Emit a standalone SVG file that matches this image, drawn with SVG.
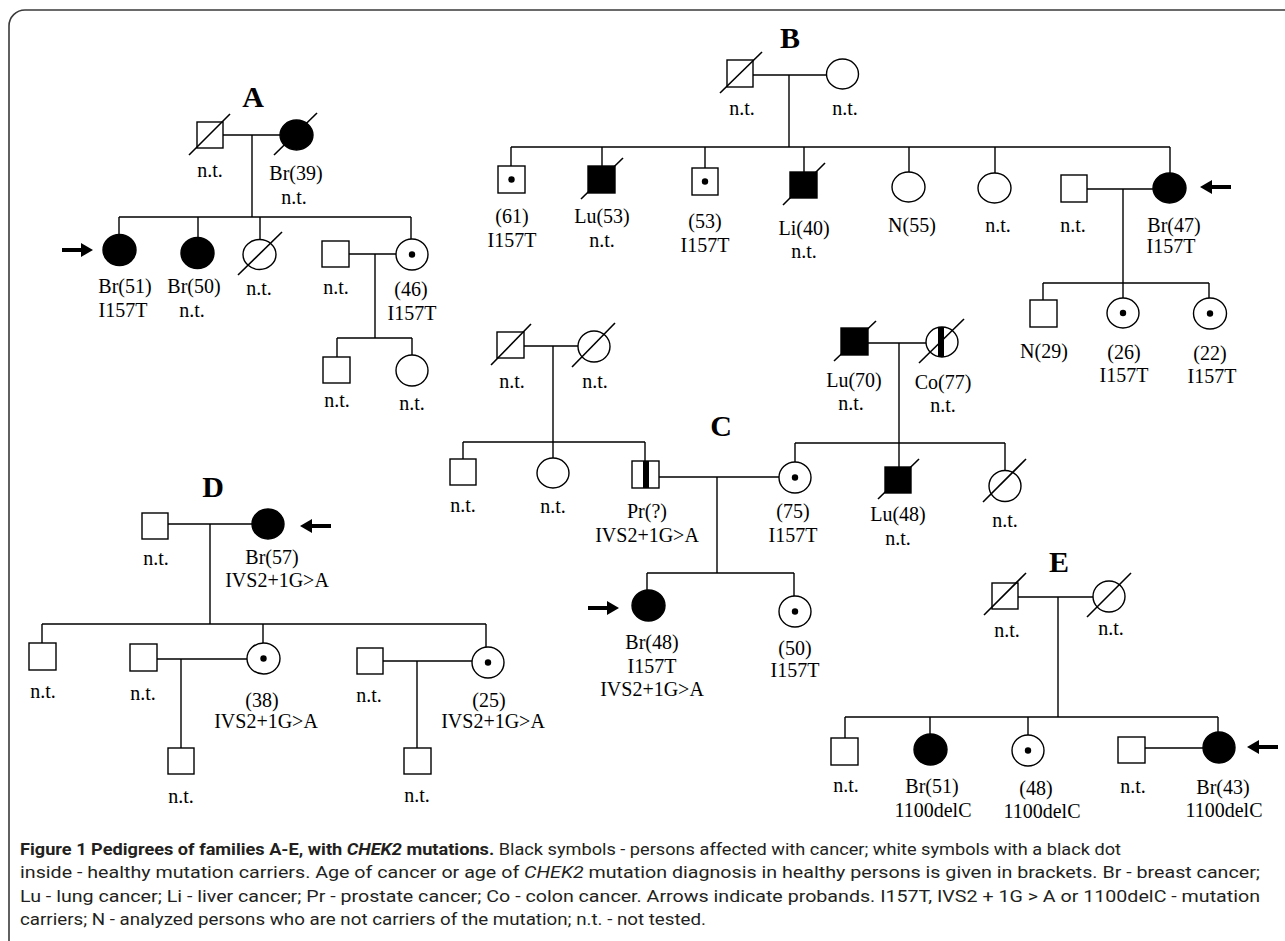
<svg xmlns="http://www.w3.org/2000/svg" xmlns:xlink="http://www.w3.org/1999/xlink" width="1285" height="941" viewBox="0 0 1285 941">
<style>
.ln{stroke:#000;stroke-width:1.4;fill:none}
.sym{fill:#fff;stroke:#000;stroke-width:1.4}
.aff{fill:#000;stroke:#000;stroke-width:1.4}
.sl{stroke:#000;stroke-width:1.6}
.bar{fill:#000}
.t{font-family:"Liberation Serif","Times New Roman",serif;font-size:20px;text-anchor:middle;fill:#000}
.lab{font-family:"Liberation Serif","Times New Roman",serif;font-size:30px;font-weight:bold;text-anchor:middle;fill:#000}
.cap{font-family:Roboto,"Open Sans",sans-serif;font-size:17px;fill:#231f20}
.b{font-weight:bold}
.i{font-style:italic}
</style>
<defs>
<g id="arr"><line x1="0" y1="0" x2="21" y2="0" stroke="#000" stroke-width="4"/><polygon points="19,-7 31,0 19,7" fill="#000"/></g>
</defs>
<rect x="9" y="10" width="1320" height="990" rx="16" fill="none" stroke="#3a3a3a" stroke-width="1.6"/>

<g id="connectors">
<path class="ln" d="M223 135H280M252 135V217M119 217H411M119 217V235M198 217V238M260 217V240M411 217V239M349 254H396M375 254V338M337 338H412M337 338V357M412 338V355"/>
<path class="ln" d="M753 75H827M789 75V147M511 147H1170M511 147V166M602 147V166M705 147V168M804 147V172M909 147V172M995 147V173M1170 147V173M1087 189H1153M1123 189V283M1043 283H1209M1043 283V300M1123 283V298M1209 283V298"/>
<path class="ln" d="M524 346H578M553 346V458M463 442H645M463 442V459M645 442V461M868 343H926M899 343V467M795 443H1005M795 443V462M1005 443V470.5M659 477H779M717 477V573M647 573H794M647 573V590M794 573V596"/>
<path class="ln" d="M168 524H252M210 524V624M42 624H486M42 624V643M263 624V643M486 624V647M157 659H247M181 659V748M383 661H473M417 661V748"/>
<path class="ln" d="M1018 597H1093M1058 597V717M845 717H1218M845 717V738M930 717V734M1028 717V735M1218 717V732M1145 748H1203"/>
<use xlink:href="#arr" transform="translate(62,250)"/>
<use xlink:href="#arr" transform="translate(588,608)"/>
<use xlink:href="#arr" transform="translate(1231,187) scale(-1,1)"/>
<use xlink:href="#arr" transform="translate(331,526) scale(-1,1)"/>
<use xlink:href="#arr" transform="translate(1278,747) scale(-1,1)"/>
</g>

<g id="labels">
<text class="lab" x="253" y="107">A</text>
<text class="lab" x="790" y="48">B</text>
<text class="lab" x="721" y="436">C</text>
<text class="lab" x="213" y="497">D</text>
<text class="lab" x="1059" y="572">E</text>
</g>

<!-- Family A -->
<g id="a1"><rect class="sym" x="197" y="122" width="26" height="26"/><line class="sl" x1="189" y1="155" x2="230" y2="114"/><text class="t" x="210" y="177">n.t.</text></g>
<g id="a2"><ellipse class="aff" cx="296.5" cy="135" rx="16.5" ry="15"/><line class="sl" x1="274" y1="155" x2="317" y2="113"/><text class="t" x="296" y="180">Br(39)</text><text class="t" x="294" y="204">n.t.</text></g>
<g id="a3"><ellipse class="aff" cx="119.5" cy="250" rx="16.5" ry="15.5"/><text class="t" x="125" y="293">Br(51)</text><text class="t" x="123" y="317">I157T</text></g>
<g id="a4"><ellipse class="aff" cx="197.5" cy="253" rx="16.5" ry="15.5"/><text class="t" x="194" y="293">Br(50)</text><text class="t" x="192" y="317">n.t.</text></g>
<g id="a5"><ellipse class="sym" cx="259.5" cy="254.5" rx="16.5" ry="15"/><line class="sl" x1="238" y1="275" x2="282" y2="232"/><text class="t" x="259" y="295">n.t.</text></g>
<g id="a6"><rect class="sym" x="322" y="241" width="27" height="26"/><text class="t" x="336" y="294">n.t.</text></g>
<g id="a7"><ellipse class="sym" cx="412" cy="254.5" rx="16" ry="15.5"/><circle cx="412" cy="254.5" r="3.2"/><text class="t" x="411" y="296">(46)</text><text class="t" x="412" y="320">I157T</text></g>
<g id="a8"><rect class="sym" x="323" y="357" width="27" height="26"/><text class="t" x="337" y="407">n.t.</text></g>
<g id="a9"><ellipse class="sym" cx="412" cy="370.5" rx="16" ry="15.5"/><text class="t" x="412" y="410">n.t.</text></g>

<!-- Family B -->
<g id="b1"><rect class="sym" x="727" y="60" width="26" height="27"/><line class="sl" x1="720" y1="93" x2="762" y2="52"/><text class="t" x="742" y="115">n.t.</text></g>
<g id="b2"><ellipse class="sym" cx="842.5" cy="74" rx="16" ry="15"/><text class="t" x="845" y="115">n.t.</text></g>
<g id="b3"><rect class="sym" x="498" y="166" width="27" height="27"/><circle cx="511.5" cy="179.5" r="3.2"/><text class="t" x="512" y="223">(61)</text><text class="t" x="512" y="247">I157T</text></g>
<g id="b4"><rect class="aff" x="588" y="166" width="27" height="27"/><line class="sl" x1="581" y1="199" x2="623" y2="158"/><text class="t" x="602" y="223">Lu(53)</text><text class="t" x="602" y="247">n.t.</text></g>
<g id="b5"><rect class="sym" x="692" y="168" width="26" height="27"/><circle cx="705" cy="181.5" r="3.2"/><text class="t" x="705" y="228">(53)</text><text class="t" x="705" y="252">I157T</text></g>
<g id="b6"><rect class="aff" x="790" y="172" width="27" height="26"/><line class="sl" x1="783" y1="205" x2="825" y2="163"/><text class="t" x="804" y="235">Li(40)</text><text class="t" x="804" y="258">n.t.</text></g>
<g id="b7"><ellipse class="sym" cx="908.5" cy="187" rx="16.5" ry="15"/><text class="t" x="912" y="232">N(55)</text></g>
<g id="b8"><ellipse class="sym" cx="994.5" cy="188" rx="16.5" ry="15"/><text class="t" x="998" y="232">n.t.</text></g>
<g id="b9"><rect class="sym" x="1061" y="175" width="26" height="27"/><text class="t" x="1073" y="232">n.t.</text></g>
<g id="b10"><ellipse class="aff" cx="1169.5" cy="188" rx="16.5" ry="15"/><text class="t" x="1174" y="232">Br(47)</text><text class="t" x="1171" y="253">I157T</text></g>
<g id="b11"><rect class="sym" x="1030" y="300" width="27" height="27"/><text class="t" x="1044" y="358">N(29)</text></g>
<g id="b12"><ellipse class="sym" cx="1123" cy="313" rx="16" ry="15"/><circle cx="1123" cy="313" r="3.2"/><text class="t" x="1124" y="359">(26)</text><text class="t" x="1124" y="382">I157T</text></g>
<g id="b13"><ellipse class="sym" cx="1210" cy="313.5" rx="16.5" ry="15.5"/><circle cx="1210" cy="313.5" r="3.2"/><text class="t" x="1210" y="360">(22)</text><text class="t" x="1212" y="383">I157T</text></g>

<!-- Family C -->
<g id="c1"><rect class="sym" x="497" y="332" width="27" height="26"/><line class="sl" x1="491" y1="365" x2="531" y2="324"/><text class="t" x="512" y="388">n.t.</text></g>
<g id="c2"><ellipse class="sym" cx="594" cy="346.5" rx="16" ry="15.5"/><line class="sl" x1="572" y1="367" x2="615" y2="323"/><text class="t" x="595" y="388">n.t.</text></g>
<g id="c3"><rect class="sym" x="450" y="459" width="26" height="26"/><text class="t" x="463" y="512">n.t.</text></g>
<g id="c4"><ellipse class="sym" cx="553" cy="473" rx="16" ry="15"/><text class="t" x="553" y="513">n.t.</text></g>
<g id="c5"><rect class="sym" x="632" y="461" width="27" height="27"/><rect class="bar" x="643" y="461" width="6" height="27"/><text class="t" x="647" y="518">Pr(?)</text><text class="t" x="647" y="542">IVS2+1G&gt;A</text></g>
<g id="c6"><rect class="aff" x="841" y="328" width="27" height="27"/><line class="sl" x1="834" y1="361" x2="876" y2="321"/><text class="t" x="854" y="387">Lu(70)</text><text class="t" x="851" y="410">n.t.</text></g>
<g id="c7"><ellipse class="sym" cx="942" cy="342" rx="16" ry="15"/><rect class="bar" x="938" y="327" width="6" height="30"/><line class="sl" x1="919" y1="363" x2="964" y2="319"/><text class="t" x="943" y="389">Co(77)</text><text class="t" x="943" y="412">n.t.</text></g>
<g id="c8"><ellipse class="sym" cx="795" cy="477.5" rx="16" ry="15.5"/><circle cx="795" cy="477.5" r="3.2"/><text class="t" x="793" y="518">(75)</text><text class="t" x="793" y="542">I157T</text></g>
<g id="c9"><rect class="aff" x="885" y="467" width="26" height="26"/><line class="sl" x1="878" y1="499" x2="919" y2="459"/><text class="t" x="898" y="521">Lu(48)</text><text class="t" x="898" y="545">n.t.</text></g>
<g id="c10"><ellipse class="sym" cx="1005" cy="486" rx="16" ry="15.5"/><line class="sl" x1="983" y1="502" x2="1026" y2="459"/><text class="t" x="1005" y="527">n.t.</text></g>
<g id="c11"><ellipse class="aff" cx="648.5" cy="605.5" rx="16.5" ry="15.5"/><text class="t" x="652" y="649">Br(48)</text><text class="t" x="652" y="673">I157T</text><text class="t" x="652" y="696">IVS2+1G&gt;A</text></g>
<g id="c12"><ellipse class="sym" cx="795" cy="611.5" rx="16" ry="15.5"/><circle cx="795" cy="611.5" r="3.2"/><text class="t" x="795" y="655">(50)</text><text class="t" x="795" y="677">I157T</text></g>

<!-- Family D -->
<g id="d1"><rect class="sym" x="142" y="513" width="26" height="26"/><text class="t" x="156" y="565">n.t.</text></g>
<g id="d2"><ellipse class="aff" cx="268" cy="524" rx="16" ry="15"/><text class="t" x="272" y="564">Br(57)</text><text class="t" x="277" y="587">IVS2+1G&gt;A</text></g>
<g id="d3"><rect class="sym" x="29" y="643" width="27" height="27"/><text class="t" x="43" y="698">n.t.</text></g>
<g id="d4"><rect class="sym" x="130" y="644" width="27" height="27"/><text class="t" x="143" y="700">n.t.</text></g>
<g id="d5"><ellipse class="sym" cx="263.5" cy="658.5" rx="16.5" ry="15.5"/><circle cx="263.5" cy="658.5" r="3.2"/><text class="t" x="262" y="707">(38)</text><text class="t" x="266" y="728">IVS2+1G&gt;A</text></g>
<g id="d6"><rect class="sym" x="168" y="748" width="26" height="26"/><text class="t" x="181" y="803">n.t.</text></g>
<g id="d7"><rect class="sym" x="357" y="648" width="26" height="26"/><text class="t" x="369" y="702">n.t.</text></g>
<g id="d8"><ellipse class="sym" cx="488" cy="662.5" rx="16" ry="15.5"/><circle cx="488" cy="662.5" r="3.2"/><text class="t" x="489" y="707">(25)</text><text class="t" x="493" y="728">IVS2+1G&gt;A</text></g>
<g id="d9"><rect class="sym" x="404" y="748" width="27" height="26"/><text class="t" x="417" y="802">n.t.</text></g>

<!-- Family E -->
<g id="e1"><rect class="sym" x="992" y="583" width="26" height="26"/><line class="sl" x1="984" y1="615" x2="1026" y2="573"/><text class="t" x="1007" y="637">n.t.</text></g>
<g id="e2"><ellipse class="sym" cx="1109" cy="596.5" rx="16" ry="15.5"/><line class="sl" x1="1087" y1="617" x2="1131" y2="573"/><text class="t" x="1111" y="635">n.t.</text></g>
<g id="e3"><rect class="sym" x="831" y="738" width="27" height="27"/><text class="t" x="846" y="792">n.t.</text></g>
<g id="e4"><ellipse class="aff" cx="930.5" cy="749.5" rx="16.5" ry="15.5"/><text class="t" x="932" y="793">Br(51)</text><text class="t" x="933" y="817">1100delC</text></g>
<g id="e5"><ellipse class="sym" cx="1028" cy="750.5" rx="16" ry="15.5"/><circle cx="1028" cy="750.5" r="3.2"/><text class="t" x="1036" y="795">(48)</text><text class="t" x="1042" y="818">1100delC</text></g>
<g id="e6"><rect class="sym" x="1118" y="737" width="27" height="26"/><text class="t" x="1133" y="793">n.t.</text></g>
<g id="e7"><ellipse class="aff" cx="1219" cy="747.5" rx="16" ry="15.5"/><text class="t" x="1223" y="794">Br(43)</text><text class="t" x="1224" y="817">1100delC</text></g>

<g id="caption">
<text class="cap" x="20" y="855" textLength="1101" lengthAdjust="spacingAndGlyphs"><tspan class="b">Figure 1 Pedigrees of families A-E, with </tspan><tspan class="b i">CHEK2</tspan><tspan class="b"> mutations.</tspan> Black symbols - persons affected with cancer; white symbols with a black dot</text>
<text class="cap" x="20" y="878" textLength="1240" lengthAdjust="spacingAndGlyphs">inside - healthy mutation carriers. Age of cancer or age of <tspan class="i">CHEK2</tspan> mutation diagnosis in healthy persons is given in brackets. Br - breast cancer;</text>
<text class="cap" x="20" y="902" textLength="1240" lengthAdjust="spacingAndGlyphs">Lu - lung cancer; Li - liver cancer; Pr - prostate cancer; Co - colon cancer. Arrows indicate probands. I157T, IVS2 + 1G &gt; A or 1100delC - mutation</text>
<text class="cap" x="20" y="925" textLength="686" lengthAdjust="spacingAndGlyphs">carriers; N - analyzed persons who are not carriers of the mutation; n.t. - not tested.</text>
</g>
</svg>
